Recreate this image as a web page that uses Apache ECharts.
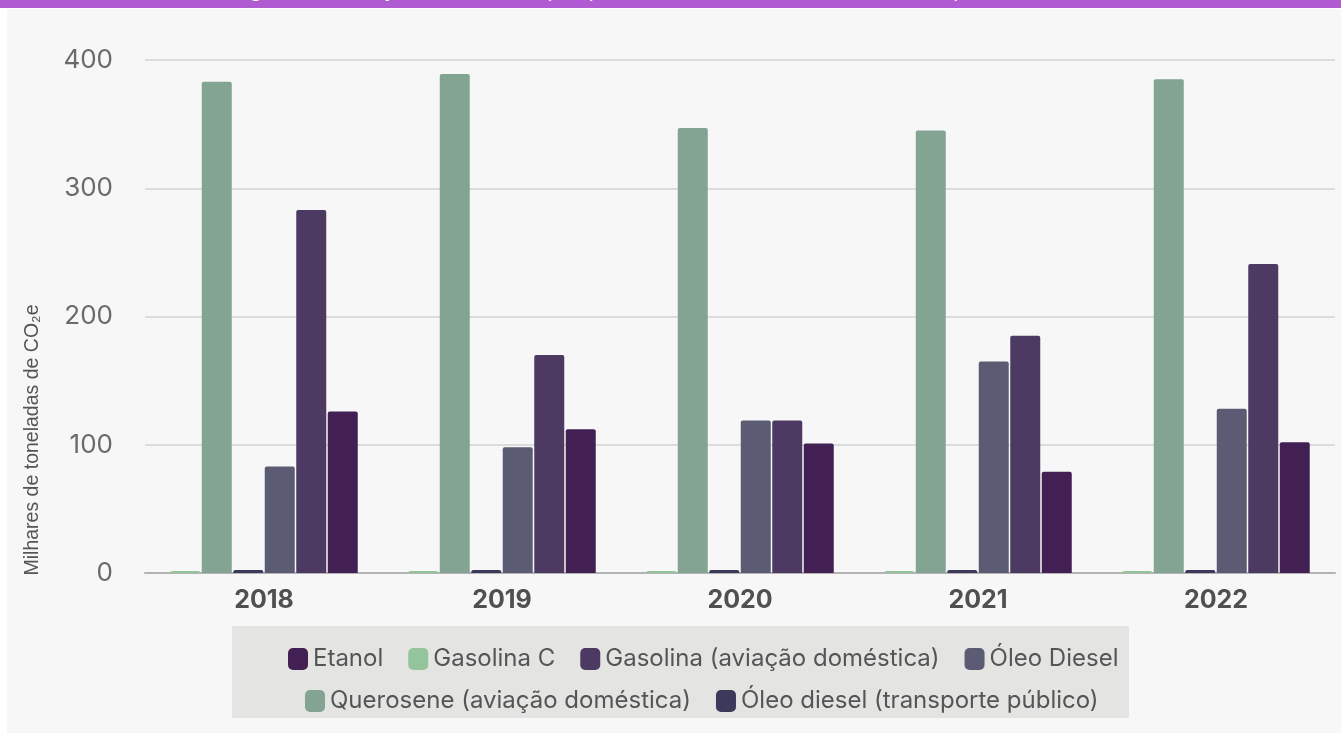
<!DOCTYPE html>
<html>
<head>
<meta charset="utf-8">
<script src="https://cdn.jsdelivr.net/npm/echarts@6/dist/echarts.min.js"></script>
<style>
  html, body { margin: 0; padding: 0; background: #ffffff; }
  .band {
    position: absolute; left: 0; top: 0; width: 1341px; height: 8px;
    background: #b05bd2; overflow: hidden;
  }
  .band span {
    position: absolute; left: 232px; top: -20px; white-space: nowrap;
    font-family: 'Liberation Sans', sans-serif; font-size: 20px; line-height: 20px; color: #ffffff;
  }
  #chart { position: absolute; left: 7px; top: 9px; width: 1334px; height: 724px; }
</style>
</head>
<body>
<div class="band"><span><b>Figura 5 –</b> Evolução das emissões por queima de combustíveis no setor de transportes</span></div>
<div id="chart"></div>
<script>
// dados (milhares de toneladas de CO2e)
const years = ['2018', '2019', '2020', '2021', '2022'];
const gasolinaC = [1.6, 1.6, 1.6, 1.6, 1.6];
const querosene = [383, 389, 347, 345, 385];
const oleoDieselTP = [2.4, 2.4, 2.4, 2.4, 2.4];
const oleoDiesel = [83, 98, 119, 165, 128];
const gasolinaAv = [283, 170, 119, 185, 241];
const etanol = [126, 112, 101, 79, 102];
const yTicks = [0, 100, 200, 300, 400];

const chart = echarts.init(document.getElementById('chart'));

function bar(name, data, color) {
  return {
    name: name,
    type: 'bar',
    data: data,
    barWidth: 30,
    barGap: '5%',
    itemStyle: { color: color, borderRadius: [2, 2, 0, 0] }
  };
}

const legendCommon = {
  itemWidth: 20,
  itemHeight: 22,
  itemGap: 25,
  icon: 'roundRect',
  textStyle: { fontFamily: 'Inter', fontSize: 24, color: '#555555' },
  selectedMode: false
};

chart.setOption({
  backgroundColor: '#f7f7f7',
  animation: false,
  textStyle: { fontFamily: 'Inter' },
  graphic: [
    { type: 'rect', z: -10, shape: { x: 225, y: 617, width: 897, height: 92 }, style: { fill: '#e4e4e2' } },
    {
      type: 'text', x: 26, y: 431, rotation: Math.PI / 2,
      style: {
        text: 'Milhares de toneladas de CO₂e', fontFamily: 'Liberation Sans', fontSize: 19.5,
        fill: '#555555', align: 'center', verticalAlign: 'middle'
      }
    }
  ],
  legend: [
    Object.assign({ left: 276, top: 633, data: ['Etanol', 'Gasolina C', 'Gasolina (aviação doméstica)', 'Óleo Diesel'] }, legendCommon),
    Object.assign({ left: 293, top: 675, data: ['Querosene (aviação doméstica)', 'Óleo diesel (transporte público)'] }, legendCommon)
  ],
  grid: { left: 138, right: 6, top: 51, bottom: 160 },
  xAxis: {
    type: 'category',
    data: years,
    axisTick: { show: false },
    axisLine: { lineStyle: { color: '#b4b4b4', width: 2 } },
    axisLabel: { fontFamily: 'Inter', fontSize: 25, fontWeight: 'bold', color: '#505050', margin: 15 }
  },
  yAxis: {
    type: 'value',
    min: yTicks[0],
    max: yTicks[yTicks.length - 1],
    interval: 100,
    axisLine: { show: false },
    axisTick: { show: false },
    splitLine: { lineStyle: { color: '#dcdcdc', width: 2 } },
    axisLabel: { fontFamily: 'Inter', fontSize: 26, color: '#6a6a6a', margin: 32 }
  },
  series: [
    bar('Gasolina C', gasolinaC, '#94c49b'),
    bar('Querosene (aviação doméstica)', querosene, '#83a393'),
    bar('Óleo diesel (transporte público)', oleoDieselTP, '#3c3a5a'),
    bar('Óleo Diesel', oleoDiesel, '#5b5c73'),
    bar('Gasolina (aviação doméstica)', gasolinaAv, '#4d3a62'),
    bar('Etanol', etanol, '#432054')
  ]
});
</script>
</body>
</html>
